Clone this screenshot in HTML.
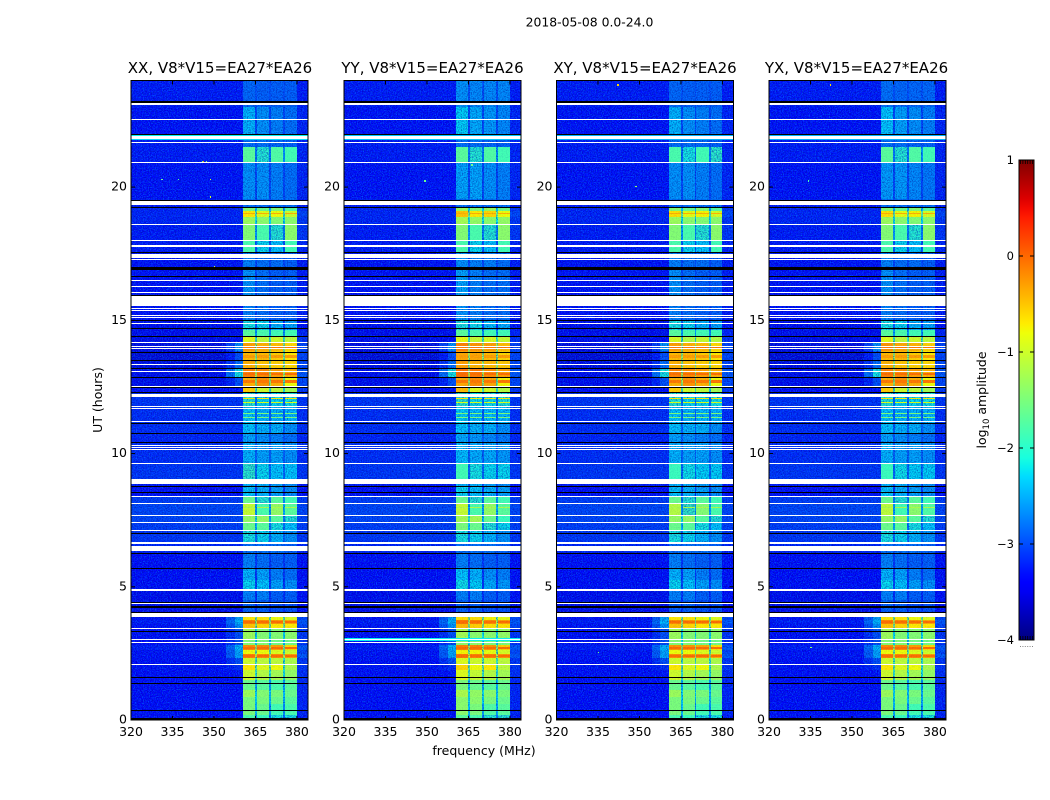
<!DOCTYPE html>
<html>
<head>
<meta charset="utf-8">
<style>
html,body{margin:0;padding:0;background:#fff;width:1050px;height:800px;overflow:hidden}
svg{display:block}
text{font-family:"DejaVu Sans","Liberation Sans",sans-serif;fill:#000}
</style>
</head>
<body>
<svg id="fig" xmlns="http://www.w3.org/2000/svg" width="1050" height="800" viewBox="0 0 1050 800">
<defs>
<filter id="speckleLight" x="0" y="0" width="100%" height="100%" color-interpolation-filters="sRGB">
<feTurbulence type="fractalNoise" baseFrequency="0.85" numOctaves="2" seed="4"/>
<feColorMatrix type="matrix" values="0 0 0 0 0  0 0 0 0 0.55  0 0 0 0 1  3.6 0 0 0 -1.55"/>
</filter>
<filter id="speckleDark" x="0" y="0" width="100%" height="100%" color-interpolation-filters="sRGB">
<feTurbulence type="fractalNoise" baseFrequency="0.8" numOctaves="2" seed="11"/>
<feColorMatrix type="matrix" values="0 0 0 0 0  0 0 0 0 0  0 0 0 0 0.55  0 2.4 0 0 -1.0"/>
</filter>
<linearGradient id="cbarGradient" x1="0" y1="1" x2="0" y2="0"></linearGradient>
</defs>
<text x="589.5" y="26.5" text-anchor="middle" font-size="12.4">2018-05-08 0.0-24.0</text>
<text x="0" y="0" text-anchor="middle" font-size="12.5" transform="translate(102,400) rotate(-90)">UT (hours)</text>
<text x="484" y="755" text-anchor="middle" font-size="12.5">frequency (MHz)</text>
<text x="0" y="0" text-anchor="middle" font-size="12.5" transform="translate(986,400) rotate(-90)">log<tspan font-size="8.5" dy="3">10</tspan><tspan dy="-3"> amplitude</tspan></text>
<g id="panels"></g>
<g id="colorbar"></g>
</svg>
<script>
// ---------- data ----------
const panelTitles = ["XX, V8*V15=EA27*EA26","YY, V8*V15=EA27*EA26","XY, V8*V15=EA27*EA26","YX, V8*V15=EA27*EA26"];
const freqTicks = [320,335,350,365,380];
const hourTicks = [0,5,10,15,20];
const colorbarTicks = [1,0,-1,-2,-3,-4];
// spectral windows in MHz
const bandEdges = [[360.6,364.9],[365.7,369.9],[370.6,375.0],[375.7,379.9]];
const shoulderBand = [354.5,357.5,360.6];
const rightBand = [379.9,384];
// time segment boundaries in hours, top of panel to bottom
const segmentEdges = [24,23.02,21.78,21.52,20.92,19.54,19.27,19.12,18.86,18.56,18.00,17.55,16.91,15.90,15.52,15.00,14.62,14.40,14.14,13.84,13.50,13.16,12.86,12.49,12.26,11.77,11.14,10.76,10.39,9.60,9.04,8.77,8.40,8.14,7.69,7.39,7.09,6.67,6.26,5.70,5.25,4.87,4.50,4.01,3.86,3.75,3.60,3.45,3.00,2.81,2.62,2.47,2.32,2.10,1.87,1.50,1.12,0.86,0.60,0.19,0];
// log10 amplitude for each segment, XX polarisation: four windows
const bandLevelsXX = [
[-2.85,-2.9,-2.9,-2.9],[-2.4,-2.6,-2.7,-2.8],[-2.8,-2.8,-2.85,-2.9],[-1.7,-2,-1.75,-1.85],[-2.6,-2.6,-2.7,-2.8],
[-2.8,-2.8,-2.8,-2.8],[-1.45,-1.6,-1.45,-1.7],[-0.7,-0.9,-0.8,-1],[-1.3,-1.4,-1.45,-1.4],[-1.45,-1.8,-2,-1.4],
[-1.8,-2.2,-2.3,-1.85],[-2.7,-2.8,-2.8,-2.9],[-2.6,-2.8,-2.9,-2.9],[-2.8,-2.8,-2.8,-2.8],[-2.7,-2.8,-2.9,-2.9],
[-2.1,-2.2,-2.4,-2.5],[-1.7,-1.8,-1.85,-1.85],[-0.9,-1.1,-1,-1.1],[-0.3,-0.4,-0.45,-0.6],[-0.45,-0.45,-0.55,-0.7],
[-0.4,-0.5,-0.55,-0.6],[-0.15,-0.2,-0.3,-0.4],[-0.4,-0.25,-0.4,-0.8],[-0.55,-1,-1.1,-1.25],[-2,-2.2,-2.2,-2.1],
[-2.3,-2.4,-2.4,-2.4],[-2.3,-2.4,-2.4,-2.6],[-2.5,-2.6,-2.7,-2.8],[-2.4,-2.5,-2.5,-2.6],[-1.95,-2.2,-2.3,-2.3],
[-2.4,-2.4,-2.5,-2.6],[-2.3,-2.4,-2.5,-2.6],[-1.6,-2,-1.7,-1.85],[-1.05,-1.8,-1.35,-1.7],[-1.35,-1.35,-1.7,-2],
[-1.6,-1.7,-2.1,-2.3],[-2.1,-2.2,-2.4,-2.6],[-2.8,-2.8,-2.8,-2.9],[-2.7,-2.8,-2.9,-2.9],[-2.4,-2.5,-2.7,-2.8],
[-2.2,-2.3,-2.5,-2.6],[-2.7,-2.7,-2.9,-2.9],[-2.9,-2.9,-3,-3],[-1.2,-1.2,-1.3,-1.4],[-0.7,-0.7,-0.8,-0.9],
[-0.15,-0.2,-0.25,-0.35],[-0.5,-0.6,-0.7,-0.7],[-1.3,-1.45,-1.45,-1.4],[-1.45,-1.45,-1.55,-1.55],[-0.2,-0.2,-0.3,-0.6],
[-0.8,-0.8,-0.9,-1],[-0.15,-0.2,-0.2,-0.3],[-1,-1.1,-1.1,-1.2],[-0.7,-0.9,-0.8,-1.2],[-1,-1.15,-1.25,-1.35],
[-1.6,-1.7,-1.8,-1.7],[-1.3,-1.45,-1.5,-1.6],[-1.5,-1.5,-1.6,-1.7],[-1.5,-1.6,-1.85,-1.8],[-1.8,-1.9,-2.1,-2.1]
];
// per-segment offset of the other polarisations relative to XX
const offsetsYY = [0.25,0.15,0,0,0.1,0,0.15,0.2,0.05,0,0,0.1,0.1,0,0.1,0.05,0,0.05,0.15,0.1,0.1,0.1,0.05,0.1,0.05,0.05,0,0.05,0.05,0.1,0,0.1,0,0,0.1,0.1,0,0,0,0.1,0.05,0,0,0,0.05,0.05,0.05,0.05,0.05,0.05,0.05,0.05,0.1,0.1,0.1,0.1,0.1,0.1,0.1,0.1];
const offsetsXY = [0,0,0,-0.1,0,0,0,0.05,0,0,0,0,0,0,0,0,0,-0.05,0,0,0,0,0,0,0,0,0,0,0,0.05,0,0,0,-0.1,0,0,0,0,0,0,0,0,0,0,0,-0.05,0,0,0,-0.05,0,-0.05,0,0,0,0,0,0,0,0];
const offsetsYX = [0.05,0.1,0,0,0.05,0,0,0.05,0,0,0,0,0,0,0,0,0,0,0.05,0,0,0,0,0,0,0,0,0,0,0.05,0,0,0,-0.05,0,0,0,0,0,0,0,0,0,0,0,0,0,0,0,0,0,0,0,0,0,0,0,0,0,0];
// off-band background level per segment
const backgroundLevels = [-3.3,-3.35,-3.3,-3.3,-3.35,-3.3,-3.25,-3.25,-3.25,-3.3,-3.3,-3.35,-3.35,-3.3,-3.35,-3.5,-3.5,-3.5,-3.55,-3.6,-3.55,-3.5,-3.5,-3.45,-3.15,-3.2,-3.2,-3.25,-3.2,-3.15,-3.3,-3.45,-3.1,-3.05,-3.05,-3.1,-3.15,-3.25,-3.45,-3.45,-3.45,-3.5,-3.5,-3.4,-3.35,-3.3,-3.35,-3.4,-3.4,-3.3,-3.35,-3.35,-3.4,-3.35,-3.45,-3.45,-3.45,-3.45,-3.45,-3.45];
// left shoulder of the band and the area right of it, per segment
const shoulderLevels = [-3.3,-3.35,-3.3,-3.3,-3.35,-3.3,-3.25,-3.25,-3.25,-3.3,-3.3,-3.35,-3.35,-3.3,-3.35,-3.5,-3.5,-3.45,-2.6,-3,-2.8,-2.1,-3,-3.4,-3.15,-3.2,-3.2,-3.25,-3.2,-3.15,-3.3,-3.45,-3.1,-3.05,-3.05,-3.1,-3.15,-3.25,-3.45,-3.45,-3.45,-3.5,-3.5,-3.2,-2.5,-2.4,-2.6,-3,-3,-2.4,-2.5,-2.5,-3,-3.2,-3.35,-3.4,-3.4,-3.4,-3.4,-3.4];
const rightLevels = [-3.3,-3.25,-3.25,-3.25,-3.25,-3.3,-3.15,-3.05,-3.15,-3.15,-3.25,-3.3,-3.3,-3.3,-3.3,-3.35,-3.25,-3.15,-3.05,-3.05,-3.05,-2.95,-3.05,-3.15,-3.15,-3.2,-3.2,-3.25,-3.2,-3.15,-3.3,-3.4,-3.1,-3.05,-3.05,-3.1,-3.15,-3.25,-3.4,-3.4,-3.4,-3.45,-3.45,-3.25,-3.05,-2.95,-3.05,-3.15,-3.15,-2.95,-3.05,-2.95,-3.15,-3.15,-3.2,-3.25,-3.25,-3.25,-3.25,-3.3];
// fully flagged time ranges drawn white, [start hour, end hour]
const whiteRows = [[23.12,23.16],[23.07,23.10],[22.53,22.57],[21.82,21.90],[21.65,21.69],[20.90,20.94],[19.34,19.50],[18.56,18.60],[17.96,18.00],[17.77,17.81],[17.32,17.50],[17.25,17.29],[16.46,16.50],[16.24,16.27],[16.03,16.07],[15.53,15.90],[15.41,15.45],[15.34,15.37],[15.17,15.20],[15.09,15.13],[14.85,14.89],[14.14,14.17],[14.01,14.05],[13.91,13.95],[13.33,13.37],[13.05,13.09],[12.50,12.54],[12.12,12.22],[11.76,11.80],[11.66,11.70],[11.20,11.24],[10.29,10.32],[10.23,10.26],[10.12,10.16],[9.60,9.64],[8.84,9.05],[8.38,8.42],[8.10,8.14],[7.65,7.71],[7.39,7.42],[7.09,7.14],[6.66,6.69],[6.59,6.63],[6.34,6.54],[4.86,4.91],[4.35,4.39],[3.87,4.00],[3.43,3.47],[2.99,3.03],[2.89,2.92],[2.08,2.12]];
// dropouts drawn black
const blackRows = [[23.17,23.23],[21.97,22.01],[19.50,19.53],[19.24,19.27],[17.51,17.55],[16.90,17.00],[16.61,16.65],[15.90,15.94],[14.96,15.02],[14.66,14.70],[14.36,14.40],[13.76,13.80],[13.46,13.50],[13.16,13.20],[12.84,12.88],[12.45,12.49],[12.26,12.30],[11.12,11.15],[10.72,10.76],[10.39,10.42],[8.74,8.79],[8.51,8.55],[6.97,7.01],[6.22,6.26],[5.68,5.72],[4.41,4.44],[4.22,4.26],[4.03,4.07],[3.30,3.34],[1.57,1.61],[1.35,1.39],[0.34,0.37],[0,0.09]];
// broadband interference lines: [start hour, end hour, level]
const broadbandXX = [[21.90,21.95,-2.2],[21.78,21.82,-2.3]];
const broadbandYY = [[21.90,21.95,-2.4],[21.78,21.82,-2.4],[2.95,3.08,-2.2]];
const broadbandXY = [[21.90,21.95,-2.5],[21.78,21.82,-2.5]];
const broadbandYX = [[21.90,21.95,-2.5],[21.78,21.82,-2.5]];
// narrow bright lines inside the four windows: [start hour, end hour, level]
const bandLines = [[12.05,12.09,-0.7],[11.90,11.94,-0.9],[11.49,11.53,-1.5],[11.34,11.38,-1.5],[18.98,19.03,-0.4],[7.95,7.99,-1.2],[13.96,14.0,-0.1],[13.6,13.7,-0.3],[12.96,13.04,-0.05],[12.66,12.76,-0.1],[3.63,3.72,-0.05],[2.66,2.74,-0.05],[2.36,2.44,-0.05]];
// isolated hot pixels: [MHz, hour, level]
const hotXX = [[346,20.92,-0.2],[345.5,20.92,-1.6],[347,20.92,-1.4],[348.5,20.25,-1],[348.5,19.6,-1],[337,20.25,-1.7],[331,20.25,-1.6],[350,17,-1]];
const hotYY = [[349,20.2,-1.6],[366,20.8,-1.6]];
const hotXY = [[342,23.8,-0.6],[348.5,20,-1.3],[345,20.9,-1.6],[335,2.5,-1.5]];
const hotYX = [[342,23.8,-0.6],[346,20.9,-1.6],[334,20.2,-1.8],[335,2.7,-1.4]];
const panelOffsets = [null, offsetsYY, offsetsXY, offsetsYX];
const panelBroadband = [broadbandXX, broadbandYY, broadbandXY, broadbandYX];
const panelHot = [hotXX, hotYY, hotXY, hotYX];

// ---------- layout and scales ----------
const NS = "http://www.w3.org/2000/svg";
const panelLeft = [131, 344, 556.5, 769];
const panelTitleShift = [0.5, 0, 0, -1];
const panelWidth = 177, plotTop = 80.5, plotBottom = 720;
const freqMin = 320, freqMax = 384, hourMin = 0, hourMax = 24, levelMin = -4, levelMax = 1;
const smoothAbove = -1.9;
const xScale = (left, f) => left + (f - freqMin) / (freqMax - freqMin) * panelWidth;
const yScale = h => plotBottom - (h - hourMin) / (hourMax - hourMin) * (plotBottom - plotTop);

function ramp(t, pts) {
  for (let i = 1; i < pts.length; i++) {
    if (t <= pts[i][0]) {
      const a = pts[i-1], b = pts[i];
      return a[1] + (b[1]-a[1]) * (t-a[0]) / (b[0]-a[0]);
    }
  }
  return pts[pts.length-1][1];
}
function jet(level) {
  const t = Math.max(0, Math.min(1, (level - levelMin) / (levelMax - levelMin)));
  const r = ramp(t, [[0,0],[0.35,0],[0.66,1],[0.89,1],[1,0.5]]);
  const g = ramp(t, [[0,0],[0.125,0],[0.375,1],[0.64,1],[0.91,0],[1,0]]);
  const b = ramp(t, [[0,0.5],[0.11,1],[0.34,1],[0.65,0],[1,0]]);
  return "rgb(" + Math.round(r*255) + "," + Math.round(g*255) + "," + Math.round(b*255) + ")";
}
function el(tag, attrs, parent) {
  const e = document.createElementNS(NS, tag);
  for (const k in attrs) e.setAttribute(k, attrs[k]);
  parent.appendChild(e);
  return e;
}
function cell(parent, left, f0, f1, h0, h1, fill) {
  const x0 = Math.round(xScale(left, f0)), x1 = Math.round(xScale(left, f1));
  const ya = Math.round(yScale(Math.max(h0, h1))), yb = Math.round(yScale(Math.min(h0, h1)));
  const r = el("rect", {x:x0, y:ya, width:Math.max(1, x1-x0), height:Math.max(1, yb-ya), fill:fill, "shape-rendering":"crispEdges"}, parent);
  
  
  return r;
}

const panelsRoot = document.getElementById("panels");
panelTitles.forEach((title, p) => {
  const left = panelLeft[p];
  const off = panelOffsets[p];
  const g = el("g", {}, panelsRoot);
  
  
  const clip = el("clipPath", {id:"clip"+p}, g);
  el("rect", {x:left, y:plotTop, width:panelWidth, height:plotBottom-plotTop}, clip);
  const plot = el("g", {"clip-path":"url(#clip"+p+")"}, g);
  
  

  // background, shoulder, right-hand region and faint window cells
  backgroundLevels.forEach((lvl, i) => {
    const d = off ? off[i] : 0;
    const h0 = segmentEdges[i+1], h1 = segmentEdges[i];
    const row = bandLevelsXX[i];
    cell(plot, left, freqMin, freqMax, h0, h1, jet(lvl));
    cell(plot, left, shoulderBand[0], shoulderBand[1], h0, h1, jet((lvl + shoulderLevels[i]) / 2));
    cell(plot, left, shoulderBand[1], shoulderBand[2], h0, h1, jet(shoulderLevels[i]));
    cell(plot, left, rightBand[0], rightBand[1], h0, h1, jet(rightLevels[i]));
    row.forEach((v, b) => {
      if (v + d < smoothAbove) cell(plot, left, bandEdges[b][0], bandEdges[b][1], h0, h1, jet(v + d));
      if (b < row.length - 1) {
        const gap = Math.max(lvl + 0.3, Math.min(v, row[b+1]) + d - 0.75);
        cell(plot, left, bandEdges[b][1], bandEdges[b+1][0], h0, h1, jet(gap));
      }
    });
  });
  const sp = el("rect", {x:left, y:plotTop, width:panelWidth, height:plotBottom-plotTop, filter:"url(#speckleLight)", opacity:0.55}, plot);
  
  
  const sd = el("rect", {x:left, y:plotTop, width:panelWidth, height:plotBottom-plotTop, filter:"url(#speckleDark)", opacity:0.5}, plot);
  
  

  // bright window cells stay smooth, drawn over the noise
  bandLevelsXX.forEach((row, i) => {
    const d = off ? off[i] : 0;
    const h0 = segmentEdges[i+1], h1 = segmentEdges[i];
    row.forEach((v, b) => {
      if (v + d >= smoothAbove) cell(plot, left, bandEdges[b][0], bandEdges[b][1], h0, h1, jet(v + d));
    });
  });
  bandLines.forEach(l => {
    bandEdges.forEach(b => cell(plot, left, b[0], b[1], l[0], l[1], jet(l[2])));
  });
  const sb = el("rect", {x:left, y:plotTop, width:panelWidth, height:plotBottom-plotTop, filter:"url(#speckleDark)", opacity:0.12}, plot);
  
  

  panelBroadband[p].forEach(b => cell(plot, left, freqMin, freqMax, b[0], b[1], jet(b[2])));
  panelHot[p].forEach(h => cell(plot, left, h[0], h[0] + 0.5, h[1], h[1] + 0.05, jet(h[2])));
  whiteRows.forEach(r => cell(plot, left, freqMin, freqMax, r[0], r[1], "#fff"));
  blackRows.forEach(r => cell(plot, left, freqMin, freqMax, r[0], r[1], "#000"));

  // frame
  const frame = el("rect", {x:left, y:plotTop, width:panelWidth, height:plotBottom-plotTop, fill:"none", stroke:"#000", "stroke-width":1}, g);
  
  

  // ticks and labels
  freqTicks.forEach(f => {
    const x = xScale(left, f);
    const t1 = el("line", {x1:x, x2:x, y1:plotBottom, y2:plotBottom-4, stroke:"#000"}, g);
    
    
    const t2 = el("line", {x1:x, x2:x, y1:plotTop, y2:plotTop+4, stroke:"#000"}, g);
    
    
    const lb = el("text", {x:x, y:plotBottom+16, "text-anchor":"middle", "font-size":12.5}, g);
    
    
    lb.textContent = f;
  });
  hourTicks.forEach(h => {
    const y = yScale(h);
    const t1 = el("line", {x1:left, x2:left+4, y1:y, y2:y, stroke:"#000"}, g);
    
    
    const t2 = el("line", {x1:left+panelWidth, x2:left+panelWidth-4, y1:y, y2:y, stroke:"#000"}, g);
    
    
    const lb = el("text", {x:left-4, y:y+3.5, "text-anchor":"end", "font-size":12.5}, g);
    
    
    lb.textContent = h;
  });
  const tt = el("text", {x:left+panelWidth/2+panelTitleShift[p], y:73, "text-anchor":"middle", "font-size":15}, g);
  
  
  tt.textContent = title;
});

// ---------- colour bar ----------
const cbLeft = 1019, cbWidth = 15, cbTop = 160, cbBottom = 640;
const cbY = v => cbBottom - (v - levelMin) / (levelMax - levelMin) * (cbBottom - cbTop);
const grad = document.getElementById("cbarGradient");
for (let i = 0; i <= 50; i++) {
  el("stop", {offset:(i*2)+"%", "stop-color":jet(levelMin + (levelMax-levelMin)*i/50)}, grad);
}
const cb = document.getElementById("colorbar");
const bar = el("rect", {x:cbLeft, y:cbTop, width:cbWidth, height:cbBottom-cbTop, fill:"url(#cbarGradient)", stroke:"#000", "stroke-width":1}, cb);


colorbarTicks.forEach(v => {
  const y = cbY(v);
  const a = el("line", {x1:cbLeft, x2:cbLeft+4, y1:y, y2:y, stroke:"#000"}, cb);
  
  
  const b = el("line", {x1:cbLeft+cbWidth, x2:cbLeft+cbWidth-4, y1:y, y2:y, stroke:"#000"}, cb);
  
  
  const lb = el("text", {x:cbLeft-5, y:y+4, "text-anchor":"end", "font-size":11.5}, cb);
  
  
  lb.textContent = v < 0 ? "\u2212" + Math.abs(v) : v;
});
const cbMinorCount = 6;
for (let i = 0; i < cbMinorCount; i++) {
  const x = cbLeft + 1.5 + i * (cbWidth - 3) / (cbMinorCount - 1);
  const top = el("line", {x1:x, x2:x, y1:cbTop, y2:cbTop+4, stroke:"#000", "stroke-width":0.8}, cb);
  
  
  const bot = el("line", {x1:x, x2:x, y1:cbBottom, y2:cbBottom-4, stroke:"#000", "stroke-width":0.8}, cb);
  
  
  const dot = el("rect", {x:x-0.5, y:cbBottom+6, width:1, height:1, fill:"#888"}, cb);
  
  
}
</script>
</body>
</html>
